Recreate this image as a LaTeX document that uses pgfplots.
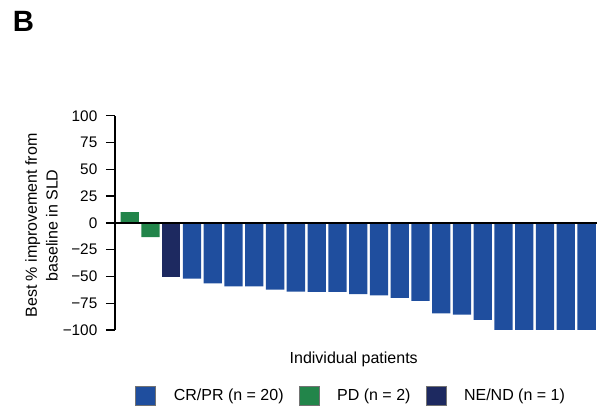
\documentclass[border=0pt]{standalone}
\usepackage{fontspec}
\setmainfont{Liberation Sans}
\usepackage{pgfplots}
\pgfplotsset{compat=1.18}
\definecolor{crpr}{RGB}{31,78,158}
\definecolor{pd}{RGB}{34,133,74}
\definecolor{nend}{RGB}{29,41,96}
\begin{document}
\begin{tikzpicture}[x=0.75pt,y=0.75pt]
\useasboundingbox (0,0) rectangle (597,407);
\node[anchor=west,font=\bfseries\fontsize{22}{26}\selectfont,inner sep=0pt] at (12.5,386) {B};
\begin{axis}[
  at={(86.25pt,57.75pt)}, anchor=south west,
  width=361.5pt, height=160.7pt, scale only axis,
  xmin=0.29, xmax=23.5, ymin=-100, ymax=100,
  axis x line=none, axis y line=left,
  axis line style={-, line width=1pt, black},
  ytick={-100,-75,-50,-25,0,25,50,75,100},
  yticklabels={−100,−75,−50,−25,0,25,50,75,100},
  tick align=outside, major tick length=6.75pt,
  tick style={line width=1pt, black},
  yticklabel style={font=\fontsize{11.5}{13}\selectfont, xshift=-3pt},
  ybar, bar shift=0pt, bar width=0.88,
  clip=false,
  legend columns=3,
  legend image code/.code={\draw[#1, draw=black!55, line width=0.4pt] (0pt,-7.1pt) rectangle (15pt,7.1pt);},
  legend style={at={(axis description cs:0.0415,-0.3056)}, anchor=west,
    draw=none, fill=none, inner sep=0pt,
    font=\fontsize{12}{14.4}\selectfont,
    nodes={inner sep=0pt},
    /tikz/every even column/.append style={column sep=11.25pt},
    /tikz/every odd column/.append style={column sep=13.5pt}},
]
\addplot[fill=crpr, draw=none] coordinates {
 (4,-52) (5,-56.4) (6,-59.2) (7,-59.2) (8,-62.3) (9,-64.2) (10,-64.5) (11,-64.5)
 (12,-66.4) (13,-67.6) (14,-70.1) (15,-72.9) (16,-84.4) (17,-85.7) (18,-90.6)
 (19,-100) (20,-100) (21,-100) (22,-100) (23,-100)};
\addlegendentry{CR/PR (n = 20)}
\addplot[fill=pd, draw=none] coordinates {(1,10) (2,-13.4)};
\addlegendentry{PD (n = 2)}
\addplot[fill=nend, draw=none] coordinates {(3,-50.2)};
\addlegendentry{NE/ND (n = 1)}
\draw[line width=1.1pt, black] (rel axis cs:0,0.5) -- (rel axis cs:1,0.5);
\end{axis}
\node[rotate=90, align=center, font=\fontsize{12}{15.5}\selectfont] at (41.5,181.5) {Best \% improvement from\\baseline in SLD};
\node[anchor=base, font=\fontsize{12}{14}\selectfont, inner sep=0pt] at (353.7,43.7) {Individual patients};
\end{tikzpicture}
\end{document}
